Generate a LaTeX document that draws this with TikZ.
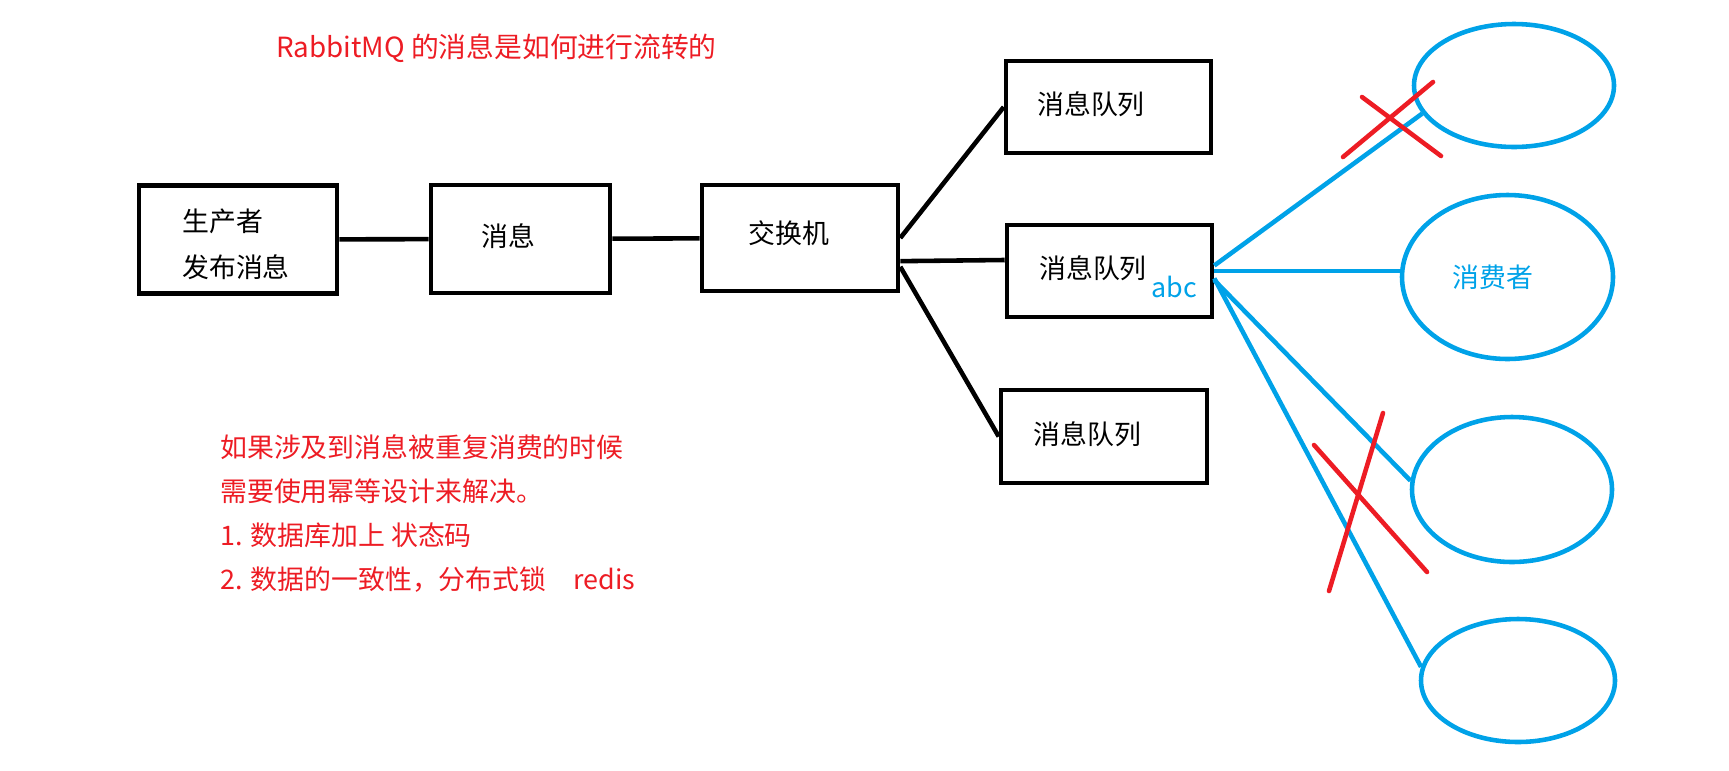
\documentclass[tikz,border=0pt]{standalone}
\usepackage{fontspec}
\newfontfamily\cjk{Noto Sans CJK SC}
\usetikzlibrary{calc, shapes.geometric}
\definecolor{paintred}{HTML}{ED1C24}
\definecolor{paintblue}{HTML}{00A2E8}

\begin{document}
\begin{tikzpicture}[line width=1.3pt, inner sep=0pt,
  font=\cjk\fontsize{7.65}{12.6}\selectfont,
  box/.style={draw, minimum width=1.98cm, minimum height=1.08cm},
  queue/.style={draw, minimum width=2.05cm, minimum height=0.92cm},
  consumer/.style={draw=paintblue, ellipse, line width=1.3pt},
  link/.style={paintblue, line width=1.3pt},
  cross/.style={paintred, line width=1.3pt, line cap=round}]
  \useasboundingbox (0,0) rectangle (17.29,-7.70);

  % titulo
  \node[anchor=west, text=paintred, font=\cjk\fontsize{7.9}{9.5}\selectfont] (title) at (2.74,-0.48) {RabbitMQ 的消息是如何进行流转的};

  % productor, mensaje, intercambiador
  \node[box] (prod) at (2.38,-2.395) {};
  \node[align=left] (prodtxt) at (2.36,-2.44) {生产者\\[0.5pt]发布消息};
  \node[box, minimum width=1.79cm] (msg) at (5.205,-2.39) {};
  \node (msgtxt) at (5.08,-2.36) {消息};
  \node[box, minimum width=1.96cm, minimum height=1.06cm] (exch) at (8.00,-2.38) {};
  \node (exchtxt) at (7.89,-2.33) {交换机};
  \draw (prod) -- (msg);
  \draw (msg) -- (exch);

  % colas
  \node[queue] (q1) at (11.085,-1.07) {};
  \node (q1txt) at (10.91,-1.04) {消息队列};
  \node[queue] (q2) at (11.095,-2.71) {};
  \node (q2txt) at (10.93,-2.68) {消息队列};
  \node[anchor=base west, text=paintblue] (abc) at (11.49,-2.97) {abc};
  \node[queue, minimum width=2.06cm, minimum height=0.93cm] (q3) at (11.04,-4.365) {};
  \node (q3txt) at (10.875,-4.34) {消息队列};
  \draw (exch.east) -- (q1.west);
  \draw (exch.-13) -- (q2.174);
  \draw (exch.-16) -- (q3.west);

  % consumidores
  \node[consumer, minimum width=2.00cm, minimum height=1.23cm] (c1) at (15.14,-0.855) {};
  \node[consumer, minimum width=2.11cm, minimum height=1.64cm] (c2) at (15.075,-2.77) {};
  \node[text=paintblue] (c2txt) at (14.93,-2.77) {消费者};
  \node[consumer, minimum width=2.00cm, minimum height=1.45cm] (c3) at (15.12,-4.895) {};
  \node[consumer, minimum width=1.94cm, minimum height=1.23cm] (c4) at (15.18,-6.805) {};
  \draw[link] (q2.3) -- (c1.197);
  \draw[link] (q2.east) -- (q2.east -| c2.west);
  \draw[link] (q2.-5) -- (c3.175);
  \draw[link] (q2.-4) -- (c4.172);

  % tachaduras
  \draw[cross] (13.62,-0.97) -- (14.41,-1.56);
  \draw[cross] (13.43,-1.57) -- (14.33,-0.82);
  \draw[cross] (13.14,-4.45) -- (14.27,-5.72);
  \draw[cross] (13.83,-4.13) -- (13.29,-5.91);

  % nota
  \node[anchor=west, align=left, text=paintred] (note) at (2.18,-5.135)
    {如果涉及到消息被重复消费的时候\\需要使用幂等设计来解决。\\1. 数据库加上 状态码\\2. 数据的一致性，分布式锁\hspace{1em}redis};
\end{tikzpicture}
\end{document}
